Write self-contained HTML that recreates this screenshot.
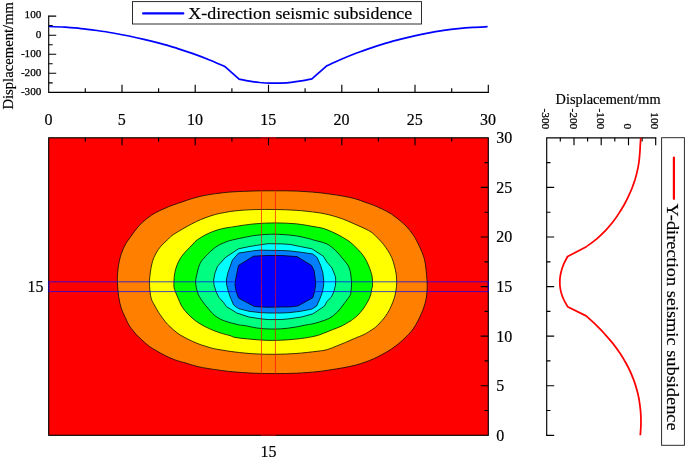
<!DOCTYPE html>
<html lang="en">
<head>
<meta charset="utf-8">
<title>Seismic subsidence contour plot</title>
<style>
html,body{margin:0;padding:0;background:#fff;}
body{width:685px;height:458px;overflow:hidden;}
svg{display:block;}
svg text{stroke:#000;stroke-width:0.18px;}
</style>
</head>
<body>
<svg width="685" height="458" viewBox="0 0 685 458" font-family='"Liberation Serif", serif' fill="#000">
<rect width="685" height="458" fill="#fff"/>
<g id="top-panel">
<path d="M48.7 16.1 V92.3 H488.3" stroke="#000" stroke-width="1.15" fill="none" stroke-linecap="square"/>
<path d="M48.7 16.1h7.5M48.7 25.6h4.0M48.7 35.2h7.5M48.7 44.7h4.0M48.7 54.2h7.5M48.7 63.7h4.0M48.7 73.2h7.5M48.7 82.8h4.0M85.3 92.3v-4.0M122.0 92.3v-7.5M158.6 92.3v-4.0M195.2 92.3v-7.5M231.9 92.3v-4.0M268.5 92.3v-7.5M305.1 92.3v-4.0M341.8 92.3v-7.5M378.4 92.3v-4.0M415.0 92.3v-7.5M451.7 92.3v-4.0M488.3 92.3v-7.5" stroke="#000" stroke-width="1.15" fill="none"/>
<text x="41.4" y="18.4" font-size="11.2" text-anchor="end" style="stroke-width:.25px">100</text>
<text x="41.4" y="37.5" font-size="11.2" text-anchor="end" style="stroke-width:.25px">0</text>
<text x="41.4" y="56.5" font-size="11.2" text-anchor="end" style="stroke-width:.25px">-100</text>
<text x="41.4" y="75.5" font-size="11.2" text-anchor="end" style="stroke-width:.25px">-200</text>
<text x="41.4" y="94.6" font-size="11.2" text-anchor="end" style="stroke-width:.25px">-300</text>
<text transform="translate(13.4 109.6) rotate(-90)" font-size="14.5" textLength="107.6" lengthAdjust="spacingAndGlyphs">Displacement/mm</text>
<text x="48.5" y="124.7" font-size="16" text-anchor="middle">0</text>
<text x="121.8" y="124.7" font-size="16" text-anchor="middle">5</text>
<text x="195.0" y="124.7" font-size="16" text-anchor="middle">10</text>
<text x="268.3" y="124.7" font-size="16" text-anchor="middle">15</text>
<text x="341.6" y="124.7" font-size="16" text-anchor="middle">20</text>
<text x="414.8" y="124.7" font-size="16" text-anchor="middle">25</text>
<text x="488.1" y="124.7" font-size="16" text-anchor="middle">30</text>
<path d="M48.9 26.5 C51.6 26.6 59.6 26.9 64.9 27.2 C70.2 27.6 75.6 28.0 80.9 28.6 C86.3 29.1 91.6 29.8 96.9 30.5 C102.3 31.3 107.6 32.1 112.9 33.0 C118.3 33.9 123.6 34.9 128.9 36.0 C134.3 37.1 139.6 38.3 145.0 39.6 C150.3 40.8 155.6 42.2 161.0 43.7 C166.3 45.1 171.6 46.7 177.0 48.3 C182.3 50.0 187.6 51.8 193.0 53.7 C198.3 55.6 203.7 57.6 209.0 59.8 C214.3 61.9 222.3 65.5 225.0 66.6 L239.1 79.1 C240.8 79.4 246.0 80.6 249.5 81.1 C253.0 81.7 256.4 82.1 259.9 82.5 C263.4 82.8 266.8 83.0 270.3 83.1 C273.8 83.2 277.2 83.2 280.7 83.1 C284.2 82.9 287.6 82.7 291.1 82.3 C294.6 82.0 298.0 81.5 301.5 80.9 C305.0 80.4 310.2 79.2 311.9 78.9 L326.7 65.9 C329.1 64.8 336.5 61.3 341.3 59.3 C346.2 57.2 351.1 55.2 356.0 53.3 C360.8 51.5 365.7 49.7 370.6 48.1 C375.5 46.4 380.3 44.9 385.2 43.4 C390.1 42.0 395.0 40.6 399.8 39.4 C404.7 38.1 409.6 36.9 414.5 35.8 C419.3 34.8 424.2 33.8 429.1 32.9 C434.0 32.0 438.8 31.2 443.7 30.4 C448.6 29.7 453.5 29.1 458.3 28.6 C463.2 28.0 468.1 27.6 473.0 27.3 C477.8 27.0 485.2 26.8 487.6 26.7" stroke="#0000ff" stroke-width="1.75" fill="none" stroke-linejoin="round"/>
<rect x="132.5" y="1.6" width="289" height="22.4" fill="#fff" stroke="#222" stroke-width="0.95"/>
<path d="M143.1 13.4H183.3" stroke="#0000ff" stroke-width="2.2" stroke-linecap="round"/>
<text x="188.3" y="19.2" font-size="17" textLength="224" lengthAdjust="spacingAndGlyphs">X-direction seismic subsidence</text>
</g>
<g id="heatmap">
<rect x="48.7" y="137.8" width="439.6" height="297.5" fill="#ff0000"/>
<path d="M275.0 190.8 C282.1 190.8 289.7 190.8 296.7 191.1 C303.7 191.4 311.4 192.0 317.0 192.5 C322.6 193.0 325.7 193.5 330.0 194.1 C334.3 194.7 338.8 195.3 343.0 196.1 C347.2 196.9 351.3 197.7 355.0 198.7 C358.7 199.7 361.9 201.1 365.0 202.2 C368.1 203.3 370.9 204.1 373.8 205.3 C376.7 206.5 379.6 207.8 382.5 209.2 C385.4 210.6 388.4 212.1 391.3 214.0 C394.2 215.9 397.4 218.4 400.0 220.6 C402.6 222.8 404.9 224.9 407.0 227.1 C409.1 229.3 410.7 231.5 412.3 233.7 C413.9 235.9 414.8 237.3 416.5 240.5 C418.2 243.7 420.9 249.4 422.3 253.0 C423.7 256.6 424.3 258.4 425.0 262.0 C425.7 265.6 426.1 270.3 426.5 274.4 C426.9 278.5 427.2 282.7 427.2 286.6 C427.2 290.5 426.9 294.4 426.3 298.0 C425.7 301.6 424.8 304.5 423.6 308.0 C422.4 311.5 420.3 316.0 418.9 319.0 C417.5 322.0 416.1 324.1 415.0 325.9 C413.9 327.7 413.7 328.3 412.4 330.0 C411.1 331.7 409.1 333.8 407.0 335.9 C404.9 338.0 402.6 340.3 400.0 342.5 C397.4 344.7 394.2 347.1 391.3 349.1 C388.4 351.1 385.4 352.7 382.5 354.3 C379.6 355.9 376.7 357.4 373.8 358.7 C370.9 360.0 368.1 361.1 365.0 362.2 C361.9 363.3 358.7 364.4 355.0 365.3 C351.3 366.2 347.2 367.0 343.0 367.8 C338.8 368.6 334.3 369.2 330.0 369.9 C325.7 370.5 322.7 371.1 317.0 371.7 C311.3 372.2 303.0 372.9 296.0 373.2 C289.0 373.5 282.0 373.6 275.0 373.6 C268.0 373.6 261.2 373.5 254.0 373.2 C246.8 372.9 237.8 372.2 232.0 371.7 C226.2 371.2 223.5 370.7 219.5 370.2 C215.5 369.7 211.8 369.1 208.0 368.5 C204.2 367.9 200.8 367.3 197.0 366.4 C193.2 365.4 187.7 363.6 185.0 362.8 C182.3 362.0 183.0 362.4 181.0 361.8 C179.0 361.2 176.0 360.3 173.2 359.2 C170.4 358.1 167.2 356.6 164.4 355.2 C161.6 353.8 159.0 352.2 156.5 350.8 C154.0 349.4 151.5 347.9 149.5 346.5 C147.5 345.1 146.1 343.6 144.3 342.1 C142.6 340.6 140.8 339.1 139.0 337.3 C137.2 335.6 135.5 333.7 133.8 331.6 C132.1 329.6 130.2 327.1 128.9 325.0 C127.6 322.9 127.3 321.8 126.0 319.0 C124.7 316.2 122.4 311.7 121.2 308.0 C120.0 304.3 119.3 300.3 118.7 296.8 C118.1 293.3 117.9 290.0 117.7 286.9 C117.5 283.8 117.2 281.1 117.3 278.0 C117.4 274.9 117.8 271.5 118.1 268.6 C118.4 265.7 118.8 263.4 119.4 260.8 C120.0 258.2 120.6 255.5 121.6 252.9 C122.5 250.3 123.9 247.3 125.1 245.0 C126.3 242.7 127.1 241.7 129.0 239.0 C130.9 236.3 134.2 231.7 136.4 228.9 C138.7 226.1 140.0 224.6 142.5 222.3 C145.0 220.0 148.4 217.3 151.3 215.3 C154.2 213.3 157.1 211.9 160.0 210.5 C162.9 209.1 165.9 207.8 168.8 206.6 C171.7 205.4 174.8 204.4 177.5 203.5 C180.2 202.6 181.8 202.0 185.0 200.9 C188.2 199.8 193.2 198.2 197.0 197.2 C200.8 196.2 204.0 195.5 208.0 194.8 C212.0 194.1 216.7 193.5 221.0 193.0 C225.3 192.5 228.5 192.1 234.0 191.8 C239.5 191.5 247.2 191.2 254.0 191.0 C260.8 190.8 267.9 190.8 275.0 190.8 Z" fill="#ff8000" stroke="#000" stroke-width="0.75" stroke-linejoin="round"/>
<path d="M275.0 209.5 C282.0 209.6 289.0 209.8 296.0 210.3 C303.0 210.8 311.4 211.7 317.0 212.5 C322.6 213.3 325.8 214.0 329.9 215.0 C333.9 216.0 337.9 217.3 341.3 218.5 C344.7 219.7 347.1 220.8 350.0 222.0 C352.9 223.2 356.3 224.8 358.8 225.9 C361.3 227.0 362.8 227.6 365.0 228.7 C367.2 229.8 369.9 231.0 372.0 232.6 C374.1 234.2 375.9 236.3 377.8 238.2 C379.7 240.1 381.7 242.1 383.3 244.1 C384.9 246.1 386.3 248.1 387.7 250.3 C389.1 252.5 390.5 254.8 391.6 257.3 C392.7 259.8 393.5 262.5 394.2 265.1 C394.9 267.7 395.6 270.7 396.0 273.0 C396.4 275.3 396.5 276.7 396.6 279.0 C396.7 281.3 396.8 283.9 396.5 286.6 C396.2 289.3 395.7 292.4 395.1 295.0 C394.5 297.6 393.8 299.5 392.9 302.0 C391.9 304.5 390.7 307.4 389.4 309.9 C388.1 312.4 386.6 314.7 385.0 316.9 C383.4 319.1 381.4 321.2 379.8 323.0 C378.2 324.8 376.8 326.2 375.2 327.5 C373.6 328.8 371.9 329.8 370.0 331.0 C368.1 332.2 366.4 333.4 363.8 334.6 C361.2 335.9 357.4 337.2 354.4 338.5 C351.4 339.8 348.5 341.2 345.6 342.4 C342.7 343.6 339.9 344.7 336.9 345.9 C333.8 347.1 330.6 348.7 327.3 349.6 C324.0 350.5 322.2 350.7 317.0 351.3 C311.8 351.9 303.0 353.0 296.0 353.5 C289.0 354.0 282.0 354.2 275.0 354.3 C268.0 354.4 260.7 354.2 254.0 353.8 C247.3 353.4 240.8 352.7 235.0 352.0 C229.2 351.3 223.1 350.3 219.0 349.6 C214.9 348.9 213.2 348.5 210.3 347.7 C207.4 346.9 204.4 346.0 201.5 345.0 C198.6 344.0 195.7 342.8 192.8 341.5 C189.9 340.2 186.6 338.6 184.0 337.1 C181.4 335.7 179.3 334.6 177.0 332.8 C174.7 331.1 172.0 328.5 170.0 326.6 C168.0 324.7 166.8 323.6 164.9 321.2 C163.0 318.8 160.4 315.2 158.7 312.5 C156.9 309.8 155.7 307.4 154.4 305.0 C153.1 302.6 151.9 301.2 151.1 298.1 C150.3 295.0 149.8 290.0 149.6 286.6 C149.4 283.2 149.4 281.4 149.7 278.0 C150.0 274.6 150.7 269.4 151.4 266.0 C152.1 262.6 152.8 260.1 154.0 257.3 C155.2 254.5 156.8 251.7 158.4 249.4 C160.0 247.1 162.0 245.0 163.7 243.3 C165.4 241.6 167.0 240.3 168.4 239.0 C169.8 237.7 170.3 236.8 172.0 235.5 C173.7 234.2 176.2 232.8 178.8 231.2 C181.4 229.6 184.6 227.8 187.5 226.2 C190.4 224.6 193.4 223.0 196.3 221.6 C199.2 220.2 201.8 219.1 205.0 217.9 C208.2 216.7 212.2 215.3 215.5 214.4 C218.8 213.5 221.4 213.1 224.7 212.5 C227.9 211.9 230.1 211.4 235.0 210.9 C239.9 210.4 247.3 209.8 254.0 209.6 C260.7 209.4 268.0 209.4 275.0 209.5 Z" fill="#ffff00" stroke="#000" stroke-width="0.75" stroke-linejoin="round"/>
<path d="M275.0 222.9 C282.0 222.9 289.3 223.2 296.0 223.8 C302.7 224.5 310.4 226.0 315.0 226.8 C319.6 227.6 320.9 227.7 323.8 228.6 C326.7 229.5 329.6 230.8 332.5 232.1 C335.4 233.4 338.4 234.8 341.3 236.5 C344.2 238.2 347.6 240.2 350.0 242.0 C352.4 243.8 354.2 245.8 356.0 247.5 C357.8 249.2 359.0 250.4 360.5 252.2 C362.0 254.0 363.6 256.0 364.9 258.1 C366.2 260.2 367.4 262.8 368.4 265.1 C369.4 267.5 370.4 270.1 371.0 272.2 C371.6 274.3 372.1 275.6 372.3 278.0 C372.6 280.4 372.6 284.9 372.5 286.6 C372.4 288.3 372.2 286.6 371.9 288.0 C371.6 289.4 371.3 292.7 370.6 295.0 C369.9 297.3 368.8 299.7 367.5 302.0 C366.2 304.3 364.7 306.8 363.1 309.0 C361.5 311.2 359.6 313.4 357.9 315.1 C356.1 316.9 353.9 318.5 352.6 319.5 C351.3 320.5 351.9 320.2 350.0 321.3 C348.1 322.4 344.2 324.8 341.3 326.2 C338.4 327.6 335.4 328.5 332.5 329.7 C329.6 330.9 326.7 332.1 323.8 333.2 C320.9 334.3 318.9 335.2 315.0 336.1 C311.1 337.0 305.5 338.0 300.5 338.6 C295.5 339.2 290.4 339.7 285.0 340.0 C279.6 340.3 273.8 340.5 268.1 340.4 C262.4 340.3 256.2 339.7 250.7 339.2 C245.2 338.7 238.4 338.0 235.0 337.4 C231.6 336.8 232.1 336.2 230.0 335.6 C227.9 335.0 225.2 334.4 222.5 333.6 C219.8 332.8 216.7 331.8 213.8 330.6 C210.9 329.4 207.9 328.1 205.0 326.6 C202.1 325.1 198.8 323.1 196.3 321.4 C193.8 319.6 192.1 318.0 190.1 316.1 C188.1 314.2 185.9 311.9 184.4 310.0 C182.9 308.1 182.2 307.0 181.1 305.0 C180.0 303.0 179.0 300.3 178.1 298.1 C177.2 295.9 176.2 294.0 175.5 292.0 C174.8 290.0 174.1 289.0 173.9 286.0 C173.8 283.0 174.0 277.5 174.6 273.9 C175.2 270.3 176.1 267.2 177.3 264.3 C178.5 261.4 180.0 258.7 181.6 256.4 C183.2 254.1 185.2 252.2 186.9 250.3 C188.7 248.4 190.5 246.6 192.1 245.0 C193.7 243.4 194.2 242.2 196.3 240.6 C198.5 238.9 202.1 236.7 205.0 235.1 C207.9 233.5 210.9 232.3 213.8 231.2 C216.7 230.1 219.8 229.2 222.5 228.6 C225.2 227.9 227.9 227.7 230.0 227.3 C232.1 227.0 231.0 227.1 235.0 226.5 C239.0 225.9 247.3 224.5 254.0 223.9 C260.7 223.3 268.0 222.9 275.0 222.9 Z" fill="#00ff00" stroke="#000" stroke-width="0.75" stroke-linejoin="round"/>
<path d="M275.0 234.2 C281.2 234.3 288.9 234.9 294.2 235.6 C299.5 236.2 303.5 237.4 306.7 238.1 C309.9 238.8 310.2 239.0 313.6 240.0 C317.0 241.0 323.2 242.2 326.8 243.9 C330.4 245.7 332.9 248.1 335.5 250.5 C338.1 252.9 340.2 255.5 342.5 258.4 C344.8 261.3 347.8 264.1 349.3 268.0 C350.8 271.9 351.2 277.9 351.5 281.9 C351.8 285.9 351.1 289.6 350.9 291.9 C350.6 294.2 351.1 293.6 350.0 295.5 C348.9 297.4 346.4 300.6 344.3 303.4 C342.2 306.2 339.8 309.6 337.3 312.1 C334.8 314.6 332.3 316.7 329.4 318.3 C326.5 319.9 322.7 320.9 319.8 321.8 C316.9 322.8 314.1 323.5 311.9 324.0 C309.7 324.5 309.6 324.2 306.7 324.8 C303.8 325.4 298.3 326.6 294.2 327.3 C290.1 328.0 285.9 328.5 281.8 328.8 C277.7 329.1 273.5 329.1 269.3 329.0 C265.1 328.9 261.0 328.6 256.9 328.0 C252.7 327.4 247.5 326.0 244.4 325.5 C241.3 325.0 241.8 325.6 238.5 324.8 C235.2 324.0 228.4 322.4 224.5 320.9 C220.6 319.4 218.0 318.1 214.9 315.6 C211.8 313.1 208.6 309.0 206.1 306.0 C203.6 303.0 201.4 300.1 200.0 297.7 C198.6 295.3 198.1 294.5 197.4 291.9 C196.7 289.3 195.6 285.2 195.6 281.9 C195.6 278.6 196.7 275.1 197.4 272.0 C198.1 268.9 198.7 266.2 200.0 263.6 C201.3 261.0 202.7 259.4 205.3 256.6 C207.9 253.8 212.5 249.4 215.8 247.0 C219.2 244.6 222.6 243.4 225.4 242.2 C228.2 241.0 229.2 240.8 232.4 240.0 C235.6 239.2 240.3 238.2 244.4 237.4 C248.5 236.6 251.8 235.7 256.9 235.2 C262.0 234.7 268.8 234.1 275.0 234.2 Z" fill="#00ff80" stroke="#000" stroke-width="0.75" stroke-linejoin="round"/>
<path d="M268.1 243.7 L281.8 243.9 L290.0 244.4 L300.5 246.6 L311.9 248.8 L323.3 256.2 L326.8 261.9 L332.0 268.0 L335.5 276.8 L335.7 280.0 L335.5 285.0 L333.8 292.0 L331.2 297.3 L326.8 301.6 L324.6 306.0 L312.8 313.9 L301.4 317.0 L290.0 318.7 L281.8 319.5 L268.1 319.6 L260.0 318.7 L249.0 317.0 L236.8 313.0 L226.3 306.5 L223.6 302.5 L218.8 297.3 L216.2 292.0 L214.0 285.0 L213.6 280.0 L214.9 273.3 L217.5 266.3 L225.4 257.5 L238.5 248.8 L249.0 246.6 L260.0 244.8 Z" fill="#00ffff" stroke="#000" stroke-width="0.75" stroke-linejoin="round"/>
<path d="M268.1 250.3 L281.8 250.5 L290.0 250.9 L301.4 252.3 L312.8 254.0 L317.1 257.5 L320.6 265.4 L322.8 272.4 L323.7 280.0 L323.7 285.0 L322.4 292.0 L319.8 299.0 L316.7 306.0 L311.9 309.1 L300.5 311.3 L290.0 312.6 L281.8 313.0 L268.1 313.0 L260.0 312.6 L249.0 311.3 L238.5 308.6 L233.7 305.1 L230.6 298.1 L228.5 292.0 L226.7 285.0 L226.3 280.0 L228.0 272.4 L232.4 260.1 L238.5 253.1 L252.5 250.9 L260.0 250.1 Z" fill="#0080ff" stroke="#000" stroke-width="0.75" stroke-linejoin="round"/>
<path d="M268.1 255.5 L281.8 255.5 L297.0 256.6 L311.5 265.4 L314.1 270.6 L315.4 280.0 L315.6 285.0 L314.5 292.0 L312.8 297.7 L297.9 306.0 L290.0 306.9 L281.8 307.0 L268.1 307.2 L260.0 306.9 L254.3 306.5 L238.5 298.1 L236.3 292.0 L235.0 285.0 L235.5 280.0 L238.5 265.4 L253.4 256.2 L260.0 255.8 Z" fill="#0000ff" stroke="#000" stroke-width="0.75" stroke-linejoin="round"/>
<rect x="48.7" y="137.8" width="439.6" height="297.5" stroke="#000" stroke-width="1.15" fill="none"/>
<path d="M85.3 137.8v3.8M488.3 410.5h-3.8M122.0 137.8v7.5M488.3 385.7h-7.5M158.6 137.8v3.8M488.3 360.9h-3.8M195.2 137.8v7.5M488.3 336.1h-7.5M231.9 137.8v3.8M488.3 311.3h-3.8M268.5 137.8v7.5M488.3 286.6h-7.5M305.1 137.8v3.8M488.3 261.8h-3.8M341.8 137.8v7.5M488.3 237.0h-7.5M378.4 137.8v3.8M488.3 212.2h-3.8M415.0 137.8v7.5M488.3 187.4h-7.5M451.7 137.8v3.8M488.3 162.6h-3.8" stroke="#000" stroke-width="1.15" fill="none"/>
<rect x="261.45" y="137.8" width="13.95" height="297.5" fill="none" stroke="#ff0000" stroke-width="0.95" stroke-opacity="0.7"/>
<rect x="48.8" y="281.8" width="439.5" height="9.8" fill="none" stroke="#0000ff" stroke-width="1" stroke-opacity="0.72"/>
<text x="496.2" y="440.7" font-size="16">0</text>
<text x="496.2" y="391.1" font-size="16">5</text>
<text x="496.2" y="341.5" font-size="16">10</text>
<text x="496.2" y="291.9" font-size="16">15</text>
<text x="496.2" y="242.4" font-size="16">20</text>
<text x="496.2" y="192.8" font-size="16">25</text>
<text x="496.2" y="143.2" font-size="16">30</text>
<text x="43.6" y="292.1" font-size="16" text-anchor="end">15</text>
<text x="268.6" y="456.6" font-size="16" text-anchor="middle">15</text>
</g>
<g id="right-panel">
<path d="M546.7 435.3 V137.8 H655.7" stroke="#000" stroke-width="1.15" fill="none" stroke-linecap="square"/>
<path d="M560.3 137.8v3.8M574.0 137.8v7.5M587.6 137.8v3.8M601.2 137.8v7.5M614.8 137.8v3.8M628.5 137.8v7.5M642.1 137.8v3.8M655.7 137.8v7.5M546.7 435.3h7.5M546.7 410.5h3.8M546.7 385.7h7.5M546.7 360.9h3.8M546.7 336.1h7.5M546.7 311.3h3.8M546.7 286.6h7.5M546.7 261.8h3.8M546.7 237.0h7.5M546.7 212.2h3.8M546.7 187.4h7.5M546.7 162.6h3.8" stroke="#000" stroke-width="1.15" fill="none"/>
<text transform="translate(542.3 129.3) rotate(90)" font-size="11.4" text-anchor="end" style="stroke-width:.25px">-300</text>
<text transform="translate(569.6 129.3) rotate(90)" font-size="11.4" text-anchor="end" style="stroke-width:.25px">-200</text>
<text transform="translate(596.8 129.3) rotate(90)" font-size="11.4" text-anchor="end" style="stroke-width:.25px">-100</text>
<text transform="translate(624.1 129.3) rotate(90)" font-size="11.4" text-anchor="end" style="stroke-width:.25px">0</text>
<text transform="translate(651.3 129.3) rotate(90)" font-size="11.4" text-anchor="end" style="stroke-width:.25px">100</text>
<text x="555.6" y="103.6" font-size="14.5" textLength="105" lengthAdjust="spacingAndGlyphs">Displacement/mm</text>
<path d="M640.7 137.8 C640.7 139.2 640.4 143.4 640.2 146.2 C640.1 149.0 640.0 151.8 639.7 154.6 C639.5 157.4 639.2 160.2 638.8 163.0 C638.4 165.8 637.9 168.6 637.2 171.4 C636.6 174.2 635.8 177.0 635.0 179.8 C634.1 182.6 633.1 185.4 632.0 188.2 C630.9 191.0 629.6 193.8 628.3 196.6 C627.0 199.4 625.5 202.2 624.0 205.0 C622.4 207.8 620.7 210.6 618.9 213.4 C617.1 216.2 615.2 219.0 613.0 221.8 C610.8 224.6 608.5 227.4 605.9 230.2 C603.2 233.0 600.4 235.8 597.1 238.6 C593.8 241.4 587.7 245.6 585.9 247.0 L567.6 256.5 C567.0 257.7 565.0 261.3 563.9 263.7 C562.9 266.1 562.0 268.5 561.4 270.8 C560.7 273.2 560.3 275.6 560.0 278.0 C559.8 280.4 559.8 282.8 559.9 285.2 C560.1 287.6 560.5 290.0 561.1 292.4 C561.8 294.7 562.6 297.1 563.7 299.5 C564.8 301.9 567.0 305.5 567.6 306.7 L586.1 315.9 C587.8 317.4 593.0 322.0 596.2 325.1 C599.3 328.1 602.3 331.2 605.0 334.3 C607.8 337.3 610.4 340.4 612.8 343.4 C615.2 346.5 617.5 349.5 619.5 352.6 C621.6 355.7 623.5 358.7 625.2 361.8 C627.0 364.8 628.5 367.9 630.0 371.0 C631.4 374.0 632.6 377.1 633.8 380.1 C634.9 383.2 635.9 386.3 636.7 389.3 C637.6 392.4 638.3 395.4 638.9 398.5 C639.4 401.6 639.9 404.6 640.2 407.7 C640.6 410.7 640.8 413.8 640.9 416.8 C641.0 419.9 641.0 423.0 640.9 426.0 C640.8 429.1 640.4 433.7 640.3 435.2" stroke="#ff0000" stroke-width="1.75" fill="none" stroke-linejoin="round"/>
<rect x="661.6" y="137.7" width="22.8" height="307.6" fill="#fff" stroke="#222" stroke-width="0.95"/>
<path d="M673.9 157.7V198.8" stroke="#ff0000" stroke-width="2.2" stroke-linecap="round"/>
<text transform="translate(667.3 203.6) rotate(90)" font-size="17" textLength="227" lengthAdjust="spacingAndGlyphs">Y-direction seismic subsidence</text>
</g>
</svg>
</body>
</html>
